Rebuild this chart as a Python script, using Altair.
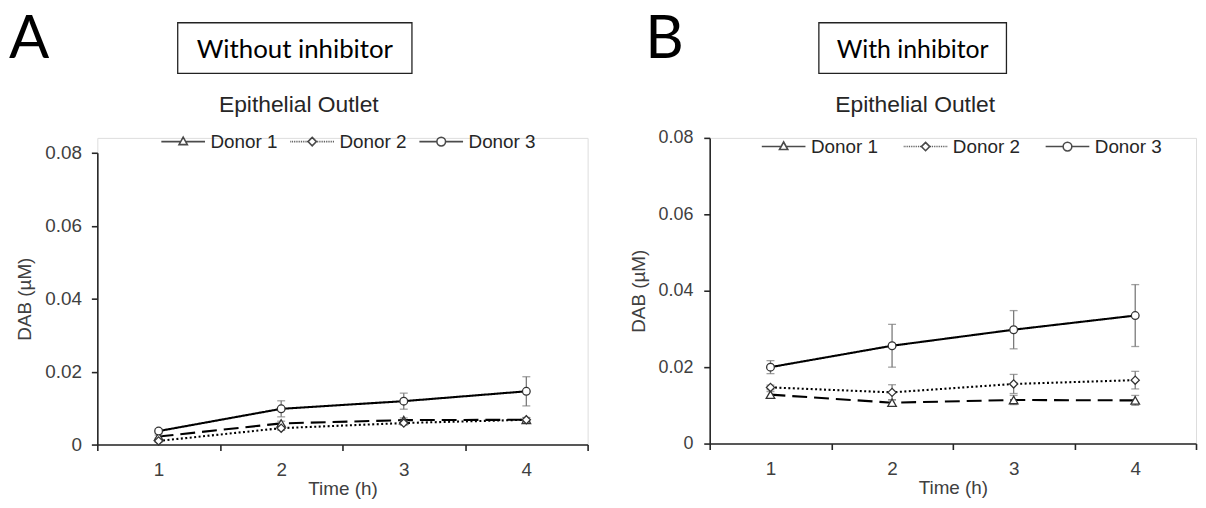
import altair as alt
import pandas as pd

# ---------------- data ----------------
times = ["1", "2", "3", "4"]
donors = ["Donor 1", "Donor 2", "Donor 3"]

# Panel A: without inhibitor
a_d1 = [0.0022, 0.0058, 0.0067, 0.0068]
a_d2 = [0.0010, 0.0045, 0.0059, 0.0068]
a_d3 = [0.0037, 0.0098, 0.0119, 0.0146]
a_e1 = [0.0004, 0.0006, 0.0006, 0.0006]
a_e2 = [0.0004, 0.0006, 0.0006, 0.0006]
a_e3 = [0.0006, 0.0022, 0.0022, 0.0040]

# Panel B: with inhibitor
b_d1 = [0.0128, 0.0107, 0.0114, 0.0113]
b_d2 = [0.0147, 0.0134, 0.0156, 0.0166]
b_d3 = [0.0200, 0.0256, 0.0298, 0.0335]
b_e1 = [0.0008, 0.0008, 0.0012, 0.0013]
b_e2 = [0.0006, 0.0020, 0.0025, 0.0023]
b_e3 = [0.0017, 0.0056, 0.0050, 0.0081]

y_ticks = [0, 0.02, 0.04, 0.06, 0.08]


def frame(vals, errs):
    rows = []
    for d, v, e in zip(donors, vals, errs):
        for t, vv, ee in zip(times, v, e):
            rows.append({"time": t, "donor": d, "value": vv,
                         "lo": vv - ee, "hi": vv + ee})
    return pd.DataFrame(rows)


dfA = frame([a_d1, a_d2, a_d3], [a_e1, a_e2, a_e3])
dfB = frame([b_d1, b_d2, b_d3], [b_e1, b_e2, b_e3])

FONT = "Liberation Sans"
HEAD = "Lato"
DARK = "#262626"
GREY = "#404040"

# legend symbols: line + marker drawn as custom paths (unit = sqrt(size)/2 px)
def dots(x0, x1, step=0.45, seg=0.22):
    p = ""
    x = x0
    while x + seg <= x1 + 1e-9:
        p += f"M{x:.2f},0H{x + seg:.2f}"
        x += step
    return p

L = 5.5
tri = "M0,-1.15L1.05,0.75L-1.05,0.75Z"
dia = "M0,-1.05L1.05,0L0,1.05L-1.05,0Z"
cir = "M1.1,0A1.1,1.1 0 1,1 -1.1,0A1.1,1.1 0 1,1 1.1,0Z"
leg_paths = [
    f"M-{L},0H-0.75M0.75,0H{L}" + tri,
    dots(-L, -1.2) + dots(1.2, L) + dia,
    f"M-{L},0H-1.1M1.1,0H{L}" + cir,
]


def panel(df, width, height, rng, letter, box_title, geo):
    x = alt.X("time:O", title="Time (h)",
              scale=alt.Scale(type="band", paddingInner=0, paddingOuter=0),
              axis=alt.Axis(labelAngle=0, tickBand="extent", domainColor=DARK,
                            tickColor=DARK, domainWidth=1.6, tickWidth=1.6,
                            tickSize=6, labelPadding=10, labelFont=FONT,
                            labelFontSize=19, labelColor=GREY,
                            titleFont=FONT, titleFontSize=19,
                            titleFontWeight="normal", titleColor=GREY,
                            titlePadding=0, grid=False))
    y = alt.Y("value:Q", title="DAB (µM)",
              scale=alt.Scale(domain=[0, 0.08], nice=False, range=rng),
              axis=alt.Axis(values=y_ticks, grid=False, domainColor=DARK,
                            tickColor=DARK, domainWidth=1.6, tickWidth=1.6,
                            tickSize=6, labelPadding=geo["labPad"],
                            labelFont=FONT, labelFontSize=geo["tickFs"],
                            labelColor=GREY,
                            labelExpr="datum.value == 0 ? '0' : format(datum.value, '.2f')",
                            titleFont=FONT, titleFontSize=19,
                            titleFontWeight="normal", titleColor=GREY,
                            titlePadding=geo["titPad"]))
    base = alt.Chart(df)
    dash_scale = alt.Scale(domain=donors, range=[[15, 7], [2, 2.5], [1, 0]])
    lines = base.mark_line(color="black", strokeWidth=2.1).encode(
        x=x, y=y,
        strokeDash=alt.StrokeDash("donor:N", scale=dash_scale, legend=None),
        detail="donor:N")
    err = base.mark_rule(color="#7a7a7a", strokeWidth=1.3).encode(
        x=x, y="lo:Q", y2="hi:Q")
    caps_lo = base.mark_tick(color="#7a7a7a", size=8, thickness=1.3).encode(
        x=x, y="lo:Q")
    caps_hi = base.mark_tick(color="#7a7a7a", size=8, thickness=1.3).encode(
        x=x, y="hi:Q")
    pts = base.mark_point(filled=True, fill="white", stroke="#333333",
                          strokeWidth=1.3, opacity=1).encode(
        x=x, y=y,
        shape=alt.Shape("donor:N", legend=None,
                        scale=alt.Scale(domain=donors,
                                        range=["triangle-up", "diamond", "circle"])),
        size=alt.Size("donor:N", legend=None,
                      scale=alt.Scale(domain=donors, range=[75, 60, 125])))
    leg = base.transform_filter("false").mark_point(
        filled=False, stroke="black", strokeWidth=1.5).encode(
        x=x, y=y,
        shape=alt.Shape("donor:N", title=None,
                        scale=alt.Scale(domain=donors, range=leg_paths),
                        legend=alt.Legend(orient="none", direction="horizontal",
                                          legendX=geo["legX"], legendY=geo["legY"],
                                          symbolSize=64, symbolStrokeWidth=1.6,
                                          symbolStrokeColor="black",
                                          symbolOffset=14, labelOffset=18,
                                          columnPadding=geo["colPad"],
                                          labelFont=FONT, labelFontSize=19,
                                          labelColor=DARK, padding=0)))
    # headings
    txt = pd.DataFrame({"k": [0]})
    hb = alt.Chart(txt)
    letter_t = hb.mark_text(text=letter, font=HEAD, fontSize=60, align="left",
                            baseline="alphabetic", color="black").encode(
        x=alt.value(geo["letX"]), y=alt.value(-80.5))
    box = hb.mark_rect(fill="white", stroke="#222222", strokeWidth=1.3).encode(
        x=alt.value(geo["boxX"]), x2=alt.value(geo["boxX2"]),
        y=alt.value(-116), y2=alt.value(-65))
    box_t = hb.mark_text(text=box_title, font=HEAD, fontSize=geo["boxFs"],
                         align="center", baseline="alphabetic",
                         color="black").encode(
        x=alt.value((geo["boxX"] + geo["boxX2"]) / 2), y=alt.value(-80))
    sub_t = hb.mark_text(text="Epithelial Outlet", font=FONT, fontSize=23,
                         align="center", baseline="alphabetic",
                         color=DARK).encode(
        x=alt.value(geo["subX"]), y=alt.value(-26))
    return alt.layer(lines, err, caps_lo, caps_hi, pts, leg, letter_t, box,
                     box_t, sub_t).resolve_scale(shape="independent").properties(
        width=width, height=height)


geoA = dict(letX=-89, boxX=81, boxX2=317, boxFs=26, subX=203,
            legX=63, legY=-6, colPad=9, tickFs=19, labPad=10, titPad=10)
geoB = dict(letX=-65, boxX=110, boxX2=299, boxFs=25, subX=207,
            legX=51, legY=-1, colPad=22, tickFs=18, labPad=11, titPad=10)

A = panel(dfA, 494, 309, [309, 15], "A", "Without inhibitor", geoA)
B = panel(dfB, 490, 308, [308, 0], "B", "With inhibitor", geoB)

chart = alt.hconcat(A, B, spacing=39).configure_view(stroke=None).configure(
    padding=0, background="white")

chart.save("out.html", embed_options={"renderer": "svg", "actions": False})
